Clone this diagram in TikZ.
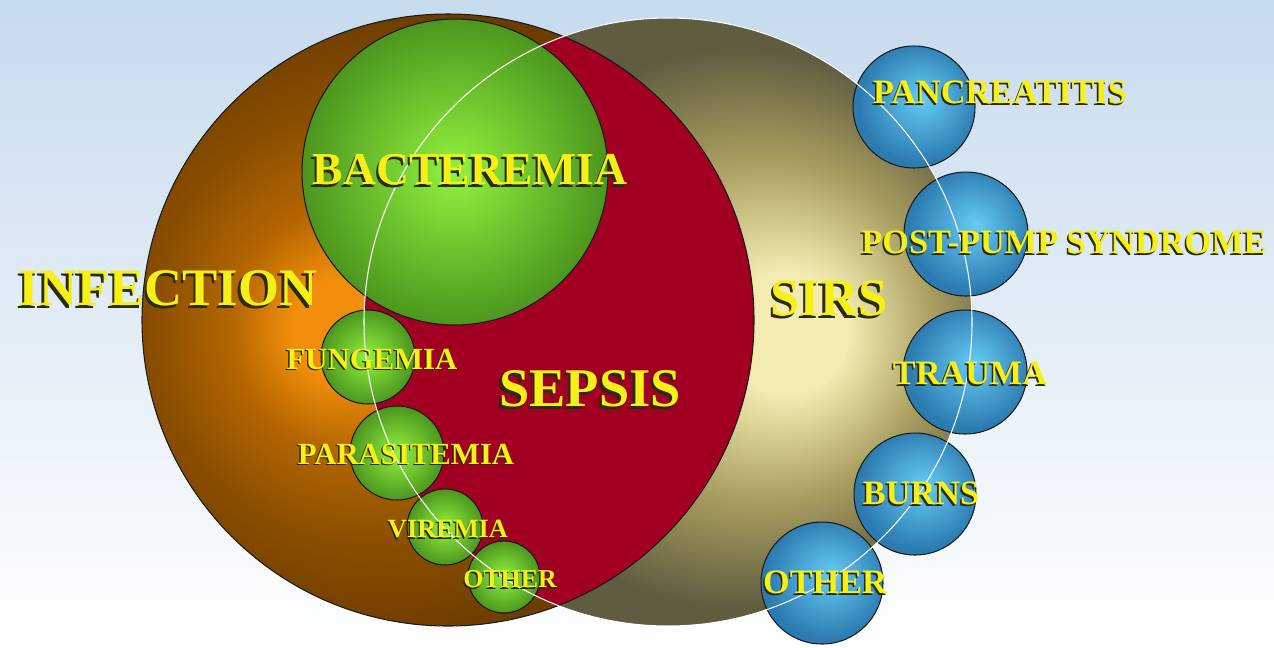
\documentclass[tikz,border=0pt]{standalone}
\usepackage{fontspec}
\setmainfont{Liberation Serif}
\usepackage{tikz}
\usetikzlibrary{positioning}

\definecolor{bgtop}{HTML}{C6DBEE}
\definecolor{infhi}{HTML}{F28E0C}
\definecolor{infmid}{HTML}{B46600}
\definecolor{infdark}{HTML}{8A4E00}
\definecolor{inflo}{HTML}{6C3C00}
\definecolor{sirshi}{HTML}{F3ECB2}
\definecolor{sirsmid}{HTML}{A99E60}
\definecolor{sirslo}{HTML}{605C40}
\definecolor{sepsisred}{HTML}{A20022}
\definecolor{grnhi}{HTML}{92F23E}
\definecolor{grnlo}{HTML}{4C961E}
\definecolor{bluhi}{HTML}{66CCF6}
\definecolor{blulo}{HTML}{2C7BB0}
\definecolor{txtyel}{HTML}{F6F016}
\definecolor{txtshd}{HTML}{2A2A10}

\pgfdeclareradialshading{infshade}{\pgfpoint{-9.6bp}{-0.8bp}}{color(0bp)=(infhi); color(4bp)=(infhi); color(10bp)=(infmid); color(18bp)=(infdark); color(26bp)=(inflo); color(50bp)=(inflo)}
\pgfdeclareradialshading{sirsshade}{\pgfpoint{10.9bp}{-1bp}}{color(0bp)=(sirshi); color(5bp)=(sirshi); color(14bp)=(sirsmid); color(23bp)=(sirslo); color(50bp)=(sirslo)}
\pgfdeclareradialshading{grnshade}{\pgfpoint{0bp}{0bp}}{color(0bp)=(grnhi); color(25bp)=(grnlo); color(50bp)=(grnlo)}
\pgfdeclareradialshading{blushade}{\pgfpoint{4bp}{4bp}}{color(0bp)=(bluhi); color(25bp)=(blulo); color(50bp)=(blulo)}

% yellow label with a dark drop shadow
\newcommand{\shd}[1]{\rlap{\kern-0.045em\raisebox{-0.05em}{\textcolor{txtshd}{#1}}}#1}
\newcommand{\lblsize}[1]{\bfseries\fontsize{#1}{#1}\selectfont}

\tikzset{
    bubble/.style={circle, draw=black!90, line width=0.6pt, inner sep=0pt, outer sep=0pt, shade},
    gbub/.style={bubble, shading=grnshade},
    bbub/.style={bubble, shading=blushade},
    lbl/.style={text=txtyel, inner sep=0pt}
}

\begin{document}
\begin{tikzpicture}[x=0.02cm, y=-0.02cm]
    % Background
    \shade[top color=bgtop, bottom color=white] (0,0) rectangle (1274,647);
    \useasboundingbox (0,0) rectangle (1274,647);
    \clip (0,0) rectangle (1274,647);

    % SIRS and infection
    \node[circle, shade, shading=sirsshade, inner sep=0pt, minimum size=12.16cm] (sirs) at (668,322) {};
    \node[circle, shade, shading=infshade, inner sep=0pt, minimum size=12.24cm] (inf) at (448,320) {};

    % Sepsis = overlap
    \begin{scope}
        \clip (inf.center) circle[radius=306];
        \fill[sepsisred] (sirs.center) circle[radius=304];
    \end{scope}
    \draw[black!90, line width=0.6pt] (inf.center) circle[radius=306];

    % Green bubbles
    \node[gbub, minimum size=6.12cm] (bact) at (455,172) {};
    \node[gbub, minimum size=1.88cm] (fung) at (368,357) {};
    \node[gbub, minimum size=1.88cm] (para) at (397,453) {};
    \node[gbub, minimum size=1.52cm] (vir) at (445,527) {};
    \node[gbub, minimum size=1.44cm] (othg) at (504,577) {};

    % Blue bubbles
    \node[bbub, minimum size=2.44cm] (panc) at (914,107) {};
    \node[bbub, minimum size=2.48cm] (pump) at (966,234) {};
    \node[bbub, minimum size=2.48cm] (trau) at (965,372) {};
    \node[bbub, minimum size=2.44cm] (burn) at (915,494) {};
    \node[bbub, minimum size=2.44cm] (othb) at (822,583) {};

    % SIRS outline
    \draw[white, line width=0.6pt] (sirs.center) circle[radius=304];

    % Labels
    \node[lbl, font=\lblsize{30}] (tinf) at (168,290) {\shd{INFECTION}};
    \node[lbl, font=\lblsize{26}] (tbact) at (470,171) {\shd{BACTEREMIA}};
    \node[lbl, font=\lblsize{31}] (tsep) at (590,390) {\shd{SEPSIS}};
    \node[lbl, font=\lblsize{30}] (tsirs) at (829,300) {\shd{SIRS}};
    \node[lbl, font=\lblsize{17.5}] (tfung) at (372,360) {\shd{FUNGEMIA}};
    \node[lbl, font=\lblsize{17.5}] (tpara) at (406,455) {\shd{PARASITEMIA}};
    \node[lbl, font=\lblsize{15}] (tvir) at (448,530) {\shd{VIREMIA}};
    \node[lbl, font=\lblsize{14.7}] (tothg) at (510,580) {\shd{OTHER}};
    \node[lbl, font=\lblsize{19.5}] (tpanc) at (1000,93) {\shd{PANCREATITIS}};
    \node[lbl, font=\lblsize{19.5}] (tpump) at (1064,243) {\shd{POST-PUMP SYNDROME}};
    \node[lbl, font=\lblsize{19.5}] (ttrau) at (970,374) {\shd{TRAUMA}};
    \node[lbl, font=\lblsize{19.5}] (tburn) at (921,494) {\shd{BURNS}};
    \node[lbl, font=\lblsize{19.5}] (tothb) at (825,583) {\shd{OTHER}};
\end{tikzpicture}
\end{document}
